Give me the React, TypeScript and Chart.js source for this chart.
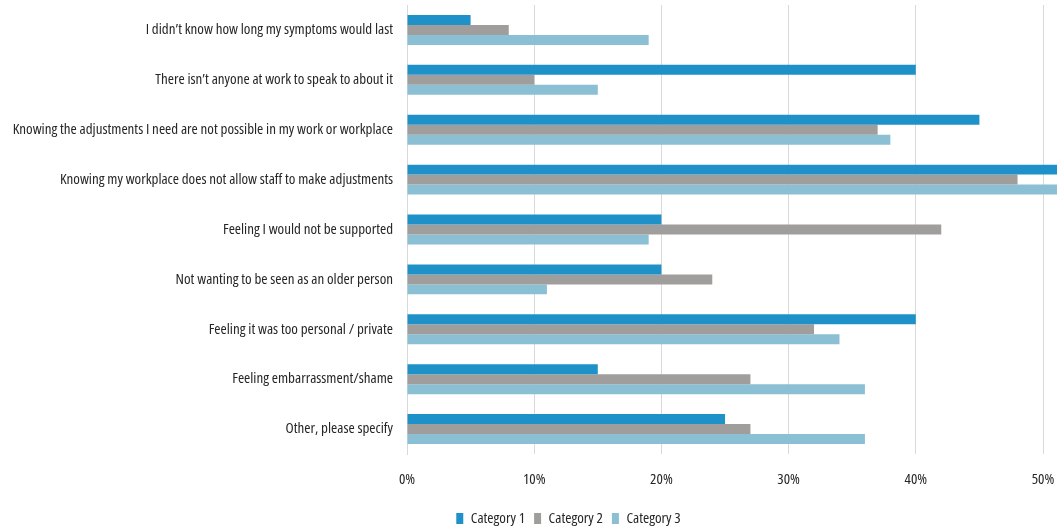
import React, { useEffect, useRef } from "react";
import { Chart, registerables } from "chart.js";

Chart.register(...registerables);

const categories = [
  "I didn\u2019t know how long my symptoms would last",
  "There isn\u2019t anyone at work to speak to about it",
  "Knowing the adjustments I need are not possible in my work or workplace",
  "Knowing my workplace does not allow staff to make adjustments",
  "Feeling I would not be supported",
  "Not wanting to be seen as an older person",
  "Feeling it was too personal / private",
  "Feeling embarrassment/shame",
  "Other, please specify",
];

const category1 = [5, 40, 45, 53, 20, 20, 40, 15, 25];
const category2 = [8, 10, 37, 48, 42, 24, 32, 27, 27];
const category3 = [19, 15, 38, 52, 19, 11, 34, 36, 36];

const seriesNames = ["Category 1", "Category 2", "Category 3"];
const tickValues = [0, 10, 20, 30, 40, 50];

const FAMILY = "'Open Sans', 'DejaVu Sans', sans-serif";
const FONT15 = { family: FAMILY, size: 15, weight: "condensed" as any };

const legendShift = {
  id: "legendShift",
  afterLayout(chart: any) {
    if (chart.legend) {
      chart.legend.left += 40;
      chart.legend.right += 40;
    }
  },
};

export default function App() {
  const ref = useRef<HTMLCanvasElement | null>(null);

  useEffect(() => {
    if (!ref.current) return;
    const chart = new Chart(ref.current, {
      type: "bar",
      data: {
        labels: categories,
        datasets: [
          { label: seriesNames[0], data: category1, backgroundColor: "#1e92c8" },
          { label: seriesNames[1], data: category2, backgroundColor: "#9f9e9c" },
          { label: seriesNames[2], data: category3, backgroundColor: "#8abfd4" },
        ],
      },
      plugins: [legendShift],
      options: {
        indexAxis: "y",
        responsive: false,
        animation: false,
        maintainAspectRatio: false,
        datasets: { bar: { barPercentage: 1, categoryPercentage: 0.6 } },
        layout: { padding: { top: 5, right: 0, bottom: -4, left: 0 } },
        plugins: {
          tooltip: { enabled: false },
          legend: {
            position: "bottom",
            labels: {
              boxWidth: 7,
              boxHeight: 11,
              padding: 9,
              color: "#262626",
              font: FONT15,
            },
          },
        },
        scales: {
          x: {
            min: 0,
            max: 51.1,
            afterBuildTicks: (scale: any) => {
              scale.ticks = tickValues.map((v) => ({ value: v }));
            },
            afterFit: (scale: any) => {
              scale.height = 48;
              scale.paddingLeft = 0;
              scale.paddingRight = 0;
            },
            grid: { color: "#d9d9d9", drawTicks: false },
            border: { display: false },
            ticks: {
              padding: 17,
              color: "#262626",
              font: FONT15,
              callback: (v: any) => v + "%",
            },
          },
          y: {
            afterFit: (scale: any) => {
              scale.width = 407;
              scale.paddingTop = 0;
              scale.paddingBottom = 0;
            },
            grid: { display: false, drawTicks: false },
            border: { display: true, color: "#d9d9d9" },
            ticks: {
              padding: 14,
              color: "#262626",
              font: FONT15,
              autoSkip: false,
            },
          },
        },
      },
    });
    return () => chart.destroy();
  }, []);

  return (
    <div style={{ position: "absolute", left: 0, top: 0, width: 1057, height: 532 }}>
      <canvas ref={ref} width={1057} height={532} style={{ width: 1057, height: 532, display: "block" }} />
    </div>
  );
}
